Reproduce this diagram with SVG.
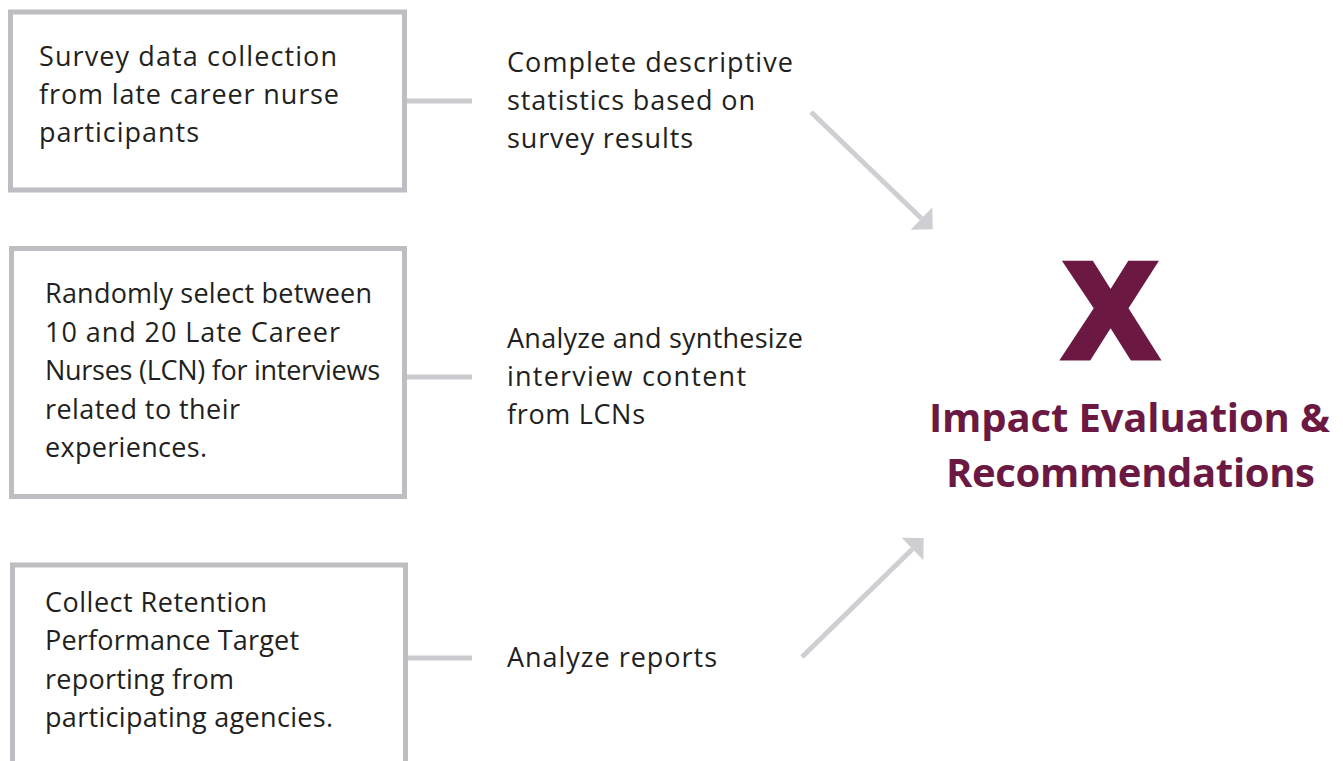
<svg xmlns="http://www.w3.org/2000/svg" width="1343" height="761" viewBox="0 0 1343 761">
  <style>
    .box { fill: #ffffff; stroke: #bdbec1; stroke-width: 5; }
    .txt { font-family: "Open Sans", "Liberation Sans", sans-serif; font-size: 27px; fill: #231f20; }
    .stub { stroke: #cbcbcf; stroke-width: 5; fill: none; }
    .arrow { stroke: #cfcfd3; stroke-width: 5; fill: none; marker-end: url(#head); }
    .title { font-family: "Open Sans", "Liberation Sans", sans-serif; font-weight: bold; font-size: 40px; fill: #6b1942; }
    .mark { font-family: "Liberation Sans", Arial, sans-serif; font-weight: bold; font-size: 132px; fill: #6b1942; stroke: #6b1942; stroke-width: 9; stroke-linejoin: miter; text-anchor: middle; }
  </style>
  <defs>
    <!-- right-angled arrow head, base at the line end -->
    <marker id="head" markerUnits="userSpaceOnUse" viewBox="0 -16 16 32" refX="0" refY="0" markerWidth="16" markerHeight="32" orient="auto" overflow="visible">
      <path d="M0,-15.6 L15.6,0 L0,15.6 Z" fill="#cfcfd3"/>
    </marker>
  </defs>

  <rect width="1343" height="761" fill="#ffffff"/>

  <!-- source boxes -->
  <g id="node-survey">
    <rect class="box" x="10.5" y="12" width="394" height="178"/>
    <text class="txt" x="39" y="66" textLength="298" lengthAdjust="spacing">Survey data collection</text>
    <text class="txt" x="39" y="104" textLength="300" lengthAdjust="spacing">from late career nurse</text>
    <text class="txt" x="39" y="142" textLength="160" lengthAdjust="spacing">participants</text>
  </g>

  <g id="node-interviews">
    <rect class="box" x="11.5" y="248.5" width="393" height="248"/>
    <text class="txt" x="45" y="303" textLength="327" lengthAdjust="spacing">Randomly select between</text>
    <text class="txt" x="45" y="342" textLength="295" lengthAdjust="spacing">10 and 20 Late Career</text>
    <text class="txt" x="45" y="380" textLength="335" lengthAdjust="spacing">Nurses (LCN) for interviews</text>
    <text class="txt" x="45" y="419" textLength="195" lengthAdjust="spacing">related to their</text>
    <text class="txt" x="45" y="457" textLength="162" lengthAdjust="spacing">experiences.</text>
  </g>

  <g id="node-retention">
    <rect class="box" x="12.5" y="565" width="393" height="220"/>
    <text class="txt" x="45" y="612" textLength="222" lengthAdjust="spacing">Collect Retention</text>
    <text class="txt" x="45" y="650" textLength="254" lengthAdjust="spacing">Performance Target</text>
    <text class="txt" x="45" y="689" textLength="189" lengthAdjust="spacing">reporting from</text>
    <text class="txt" x="45" y="727" textLength="288" lengthAdjust="spacing">participating agencies.</text>
  </g>

  <!-- analysis steps -->
  <g id="node-statistics">
    <text class="txt" x="507" y="72" textLength="286" lengthAdjust="spacing">Complete descriptive</text>
    <text class="txt" x="507" y="110" textLength="248" lengthAdjust="spacing">statistics based on</text>
    <text class="txt" x="507" y="148" textLength="186" lengthAdjust="spacing">survey results</text>
  </g>

  <g id="node-synthesis">
    <text class="txt" x="507" y="348" textLength="296" lengthAdjust="spacing">Analyze and synthesize</text>
    <text class="txt" x="507" y="386" textLength="239" lengthAdjust="spacing">interview content</text>
    <text class="txt" x="507" y="424" textLength="138" lengthAdjust="spacing">from LCNs</text>
  </g>

  <g id="node-reports">
    <text class="txt" x="507" y="667" textLength="210" lengthAdjust="spacing">Analyze reports</text>
  </g>

  <!-- outcome -->
  <g id="node-outcome">
    <text class="mark" x="1110.5" y="355.5">X</text>
    <text class="title" x="929" y="432" textLength="401" lengthAdjust="spacing">Impact Evaluation &amp;</text>
    <text class="title" x="946" y="487" textLength="369" lengthAdjust="spacing">Recommendations</text>
  </g>

  <!-- connectors -->
  <g id="connectors">
    <line class="stub" x1="407" y1="101" x2="472" y2="101"/>
    <line class="stub" x1="407" y1="377" x2="472" y2="377"/>
    <line class="stub" x1="408" y1="658" x2="472" y2="658"/>
    <line class="arrow" x1="811" y1="112" x2="921.5" y2="218.5"/>
    <line class="arrow" x1="802" y1="657" x2="912.5" y2="549"/>
  </g>
</svg>
